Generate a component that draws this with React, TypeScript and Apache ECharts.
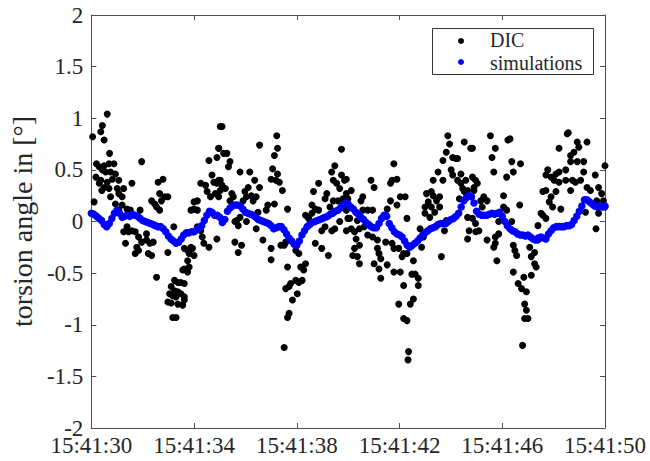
import React, { useEffect, useRef } from "react";
import * as echarts from "echarts";

// time in seconds after 15:41:30, torsion angle in degrees
const X_TICK_LABELS = ["15:41:30", "15:41:34", "15:41:38", "15:41:42", "15:41:46", "15:41:50"];
const Y_MIN = -2;
const Y_MAX = 2;
const LEGEND_NAMES = ["DIC", "simulations"];

const dicA: [number, number][] = [
  [0.05, 0.82], [0.43, 0.93], [0.62, 1.04], [0.37, 0.87], [0.5, 0.79], [0.71, 0.66], [0.2, 0.56], [0.31, 0.53],
  [0.5, 0.54], [0.69, 0.56], [0.88, 0.56], [0.43, 0.5], [0.56, 0.48], [0.75, 0.48], [0.94, 0.46], [0.18, 0.43],
  [0.37, 0.4], [0.62, 0.38], [0.82, 0.41], [1.07, 0.4], [0.31, 0.37], [0.5, 0.33], [0.69, 0.32], [1.01, 0.32],
  [0.41, 0.3], [1.07, 0.27], [0.75, 0.24], [0.11, 0.19], [1.2, 0.24], [0.94, 0.17], [1.2, 0.16], [1.07, 0.11],
  [1.39, 0.12], [1.52, 0.11], [1.58, 0.37], [1.26, 0.32], [1.96, 0.58], [1.9, 0.11], [1.26, -0.1], [1.39, -0.05],
  [1.45, -0.1], [1.58, -0.09], [1.71, -0.1], [1.33, -0.21], [1.84, -0.15], [1.96, -0.2], [1.77, -0.25], [1.71, -0.31],
  [1.84, -0.28], [2.15, -0.18], [2.28, -0.21], [2.41, -0.2], [2.22, -0.31], [2.35, -0.33], [2.54, -0.54], [2.15, -0.12],
  [2.35, 0.2], [2.47, 0.17], [2.54, 0.14], [2.66, 0.11], [2.73, 0.2], [2.66, 0.27], [2.6, 0.38], [2.79, 0.41],
  [2.86, 0.24], [2.98, 0.24], [3.21, -0.05], [2.98, -0.3], [3.62, -0.26], [3.75, -0.28], [3.81, -0.31], [3.88, -0.25],
  [3.94, -0.26], [4.0, -0.33], [3.75, -0.38], [3.81, -0.44], [3.62, -0.46], [3.56, -0.47], [3.75, -0.49], [3.24, -0.57],
  [3.37, -0.59], [3.49, -0.59], [3.62, -0.6], [3.11, -0.63], [3.24, -0.67], [3.37, -0.68], [3.05, -0.7], [3.17, -0.72],
  [3.3, -0.73], [3.49, -0.7], [3.62, -0.73], [2.98, -0.78], [3.11, -0.79], [3.37, -0.8], [3.56, -0.81], [3.62, -0.76],
  [3.17, -0.93], [3.3, -0.93], [4.13, -0.05], [4.26, -0.09], [4.32, -0.15], [4.38, -0.21], [4.58, -0.25], [4.0, 0.19],
  [4.13, 0.2], [4.26, 0.37], [4.45, 0.35], [4.51, 0.29], [4.64, 0.24], [4.7, 0.45], [4.77, 0.38], [4.89, 0.37],
  [4.58, 0.59], [4.89, 0.62], [4.96, 0.71], [5.02, 0.92], [5.02, 0.4], [4.83, 0.27], [4.96, 0.24], [4.0, 0.12],
  [4.13, 0.11], [3.88, 0.11],
];

const dicB: [number, number][] = [
  [5.09, 0.92], [4.96, 0.71], [5.15, 0.66], [5.28, 0.66], [5.4, 0.58], [5.34, 0.53], [4.96, 0.4], [5.09, 0.35],
  [5.22, 0.32], [5.02, 0.3], [5.47, 0.27], [5.4, 0.2], [5.53, 0.24], [5.79, 0.48], [6.17, 0.48], [6.36, 0.4],
  [6.55, 0.33], [6.11, 0.33], [5.98, 0.29], [6.04, 0.24], [6.23, 0.25], [6.42, 0.24], [6.3, 0.2], [5.91, 0.2],
  [6.55, 0.74], [7.22, 0.83], [7.25, 0.71], [7.13, 0.64], [7.06, 0.51], [7.25, 0.46], [7.0, 0.41], [7.19, 0.4],
  [7.32, 0.38], [7.44, 0.3], [7.13, 0.17], [6.87, 0.16], [6.81, 0.11], [6.49, 0.09], [7.64, 0.12], [4.89, -0.17],
  [5.66, 0.01], [5.79, 0.04], [5.59, 0.0], [5.72, -0.04], [6.04, 0.0], [6.42, -0.07], [6.68, -0.18], [5.59, -0.2],
  [5.85, -0.23], [5.72, -0.3], [7.0, -0.26], [7.0, -0.37], [7.38, -0.23], [7.57, -0.2], [7.96, -0.28], [8.08, -0.31],
  [8.34, -0.41], [8.15, -0.44], [8.27, -0.47], [7.64, -0.44], [7.96, -0.57], [7.76, -0.6], [8.21, -0.57], [8.08, -0.59],
  [7.57, -0.65], [7.7, -0.63], [8.02, -0.7], [7.83, -0.76], [7.7, -0.89], [7.64, -0.93], [7.51, -1.22], [7.51, -0.23],
  [8.34, 0.06], [8.46, 0.03], [8.59, 0.08], [8.72, 0.12], [8.59, 0.16], [8.85, 0.11], [8.65, 0.29], [8.85, 0.37],
  [9.17, 0.27], [9.1, 0.22], [9.29, 0.14], [9.42, 0.2], [9.1, -0.05], [8.97, -0.09], [8.72, -0.21], [8.97, -0.26],
  [9.23, -0.33], [9.36, -0.09], [9.48, -0.07], [9.67, 0.0], [9.36, 0.48], [9.48, 0.54], [9.74, 0.7], [9.42, 0.4],
  [9.55, 0.37], [9.67, 0.32], [9.74, 0.45], [9.86, 0.4], [9.93, 0.27], [9.8, 0.22], [9.61, 0.2], [9.99, 0.03],
  [9.93, -0.09],
];

const dicC: [number, number][] = [
  [9.93, 0.41], [10.12, 0.3], [9.99, 0.22], [9.93, 0.11], [10.06, 0.03], [10.12, -0.07], [10.36, 0.01], [10.57, 0.24],
  [10.5, 0.2], [10.89, 0.4], [11.01, 0.33], [10.95, 0.11], [10.76, 0.11], [10.57, 0.11], [11.78, 0.56], [11.71, 0.4],
  [11.9, 0.41], [11.65, 0.37], [11.65, 0.2], [11.9, 0.16], [11.52, 0.12], [12.03, 0.24], [12.22, 0.24], [12.29, 0.03],
  [10.25, -0.1], [10.44, -0.07], [10.63, -0.05], [10.31, -0.17], [10.44, -0.23], [10.25, -0.26], [10.18, -0.33], [10.36, -0.34],
  [10.44, -0.41], [10.76, -0.13], [10.95, -0.15], [11.14, -0.18], [11.14, -0.26], [11.2, -0.31], [11.27, -0.36], [11.01, -0.41],
  [11.2, -0.46], [11.27, -0.55], [11.52, -0.42], [11.46, -0.2], [11.71, -0.21], [11.78, -0.26], [11.97, -0.26], [12.16, -0.31],
  [12.1, -0.34], [12.29, -0.31], [11.78, -0.49], [12.03, -0.49], [12.16, -0.62], [12.54, -0.38], [12.48, -0.51], [12.61, -0.51],
  [12.73, -0.55], [12.73, -0.62], [11.97, -0.8], [12.54, -0.75], [12.42, -0.8], [12.16, -0.94], [12.29, -0.96], [12.35, -1.26],
  [12.33, -1.34], [12.8, -0.07], [12.93, -0.15], [12.86, -0.25], [12.99, 0.14], [12.99, 0.08], [13.18, 0.04], [13.12, 0.19],
  [13.24, 0.14], [13.37, 0.09], [13.56, 0.14], [13.05, 0.27], [13.24, 0.29], [13.31, 0.25], [13.56, 0.24], [13.44, 0.2],
  [13.31, 0.4], [13.5, 0.48], [13.69, 0.4], [13.63, -0.34], [13.75, -0.09], [13.82, 0.01], [13.69, 0.59], [13.82, 0.67],
  [13.95, 0.75], [13.88, 0.83], [14.01, 0.5], [14.07, 0.62], [14.2, 0.61], [14.26, 0.61], [14.07, 0.45], [14.26, 0.4],
  [14.39, 0.37], [14.46, 0.32], [14.52, 0.29], [14.52, 0.77], [14.77, 0.71], [14.39, 0.46], [14.58, 0.4], [14.84, 0.43],
  [14.9, 0.33], [14.65, 0.3], [14.33, 0.22], [14.65, 0.04], [14.71, -0.09], [14.65, -0.17], [14.84, 0.03], [14.97, -0.1],
];

const dicD: [number, number][] = [
  [14.84, 0.71], [14.96, 0.4], [15.03, 0.37], [14.9, 0.3], [15.16, 0.2], [15.28, 0.24], [15.41, 0.2], [15.22, 0.14],
  [15.09, -0.09], [14.96, -0.02], [15.41, -0.18], [15.73, -0.15], [15.86, -0.12], [15.73, -0.21], [15.67, -0.25], [15.79, -0.38],
  [15.54, 0.83], [15.73, 0.71], [15.6, 0.62], [15.67, 0.48], [16.22, 0.79], [16.3, 0.8], [16.37, 0.58], [16.43, 0.48],
  [16.17, 0.43], [16.71, 0.56], [16.05, 0.25], [16.05, 0.14], [16.17, 0.11], [16.37, 0.0], [16.68, 0.16], [15.86, 0.0],
  [16.43, -0.23], [16.49, -0.28], [16.56, -0.33], [16.43, -0.49], [16.62, -0.6], [16.75, -0.65], [16.84, -0.54], [16.94, -0.68],
  [17.13, -0.52], [16.87, -0.8], [16.94, -0.86], [16.87, -0.94], [17.0, -0.94], [16.79, -1.2], [17.07, -0.25], [17.26, -0.3],
  [17.13, -0.34], [17.26, -0.41], [17.32, -0.44], [17.39, -0.18], [17.39, -0.04], [17.51, 0.08], [17.58, 0.06], [17.7, 0.03],
  [17.83, 0.19], [17.96, 0.14], [17.58, 0.29], [17.7, 0.3], [17.9, 0.24], [17.7, 0.45], [17.77, 0.5], [17.9, 0.43],
  [18.09, 0.46], [18.21, 0.48], [18.02, 0.4], [18.21, 0.38], [18.09, 0.29], [18.28, 0.12], [18.21, 0.71], [18.47, 0.5],
  [18.47, 0.4], [18.53, 0.85], [18.57, 0.86], [18.66, 0.64], [18.66, 0.58], [18.79, 0.67], [18.92, 0.77], [18.98, 0.72],
  [19.3, 0.77], [18.92, 0.58], [19.17, 0.58], [18.73, 0.4], [18.85, 0.38], [19.17, 0.48], [19.05, 0.4], [19.3, 0.33],
  [19.43, 0.3], [19.62, 0.45], [19.75, 0.33], [19.87, 0.27], [19.68, 0.2], [18.66, 0.3], [19.24, 0.09], [20.0, 0.54],
  [19.75, 0.08], [19.65, -0.07], [19.94, 0.2], [20.0, 0.14],
];

// simulation sampled every 0.1 s from t = 0
const SIM_STEP = 0.1;
const simValues: number[] = [
  0.08, 0.07, 0.05, 0.03, 0.01, -0.03, -0.05, -0.02, 0.03, 0.08,
  0.11, 0.08, 0.04, 0.05, 0.06, 0.05, 0.07, 0.06, 0.05, 0.03,
  0.01, 0.0, -0.01, -0.02, -0.03, -0.04, -0.05, -0.05, -0.07, -0.1,
  -0.14, -0.17, -0.19, -0.21, -0.2, -0.17, -0.13, -0.11, -0.11, -0.1,
  -0.1, -0.08, -0.06, -0.04, 0.01, 0.06, 0.1, 0.09, 0.06, 0.06,
  0.04, -0.01, 0.02, 0.1, 0.13, 0.15, 0.16, 0.16, 0.15, 0.12,
  0.09, 0.08, 0.07, 0.06, 0.04, 0.02, 0.01, 0.0, -0.01, -0.02,
  -0.04, -0.07, -0.06, -0.05, -0.05, -0.08, -0.12, -0.16, -0.19, -0.22,
  -0.23, -0.19, -0.13, -0.09, -0.05, -0.03, -0.01, 0.0, 0.01, 0.02,
  0.03, 0.04, 0.05, 0.07, 0.08, 0.1, 0.11, 0.13, 0.16, 0.18,
  0.17, 0.14, 0.12, 0.09, 0.07, 0.04, 0.02, -0.01, -0.03, -0.05,
  -0.06, -0.06, -0.02, 0.03, 0.06, 0.05, -0.02, -0.06, -0.1, -0.12,
  -0.13, -0.15, -0.19, -0.23, -0.25, -0.23, -0.21, -0.19, -0.16, -0.13,
  -0.11, -0.09, -0.07, -0.06, -0.05, -0.03, -0.02, -0.02, -0.02, 0.0,
  0.02, 0.03, 0.05, 0.08, 0.14, 0.2, 0.23, 0.25, 0.24, 0.18,
  0.1, 0.07, 0.06, 0.06, 0.06, 0.07, 0.08, 0.07, 0.08, 0.09,
  0.05, 0.0, -0.04, -0.07, -0.09, -0.1, -0.12, -0.13, -0.13, -0.14,
  -0.13, -0.15, -0.17, -0.18, -0.16, -0.15, -0.16, -0.17, -0.12, -0.09,
  -0.06, -0.05, -0.05, -0.05, -0.05, -0.04, -0.04, -0.03, 0.01, 0.05,
  0.1, 0.15, 0.21, 0.21, 0.19, 0.17, 0.15, 0.14, 0.15, 0.14,
  0.15,
];

const FONT = "Liberation Serif";
const TEXT = "#262626";
const AXIS = "#4d4d4d";
const DIC_COLOR = "#000000";
const SIM_COLOR = "#0000ff";

export default function App() {
  const ref = useRef<HTMLDivElement>(null);
  useEffect(() => {
    if (!ref.current) return;
    const chart = echarts.init(ref.current, undefined, { renderer: "svg" });
    const dicData = [...dicA, ...dicB, ...dicC, ...dicD];
    const simData = simValues.map((v, i) => [Math.round(i * SIM_STEP * 10) / 10, v]);
    const xBase = {
      type: "value" as const,
      min: 0,
      max: 20,
      interval: 4,
      splitLine: { show: false },
      axisLine: { show: true, onZero: false, lineStyle: { color: AXIS, width: 1 } },
      axisTick: { show: true, inside: true, length: 5, lineStyle: { color: AXIS } },
    };
    const yBase = {
      type: "value" as const,
      min: Y_MIN,
      max: Y_MAX,
      interval: 0.5,
      splitLine: { show: false },
      axisLine: { show: true, onZero: false, lineStyle: { color: AXIS, width: 1 } },
      axisTick: { show: true, inside: true, length: 5, lineStyle: { color: AXIS } },
    };
    const legendText = (label: string, y: number) => ({
      type: "text",
      x: 490,
      y,
      style: {
        text: label,
        fontFamily: FONT,
        fontSize: 20,
        lineHeight: 18,
        fill: TEXT,
        verticalAlign: "middle",
        align: "left",
      },
    });
    chart.setOption({
      animation: false,
      backgroundColor: "#ffffff",
      textStyle: { fontFamily: FONT },
      grid: { left: 82, right: 45, top: 15, bottom: 33, containLabel: false },
      graphic: [
        {
          type: "group",
          z: 100,
          children: [
            {
              type: "rect",
              shape: { x: 432.5, y: 28.5, width: 161, height: 46 },
              style: { fill: "#ffffff", stroke: "#333333", lineWidth: 1 },
            },
            { type: "circle", shape: { cx: 461, cy: 41, r: 3 }, style: { fill: DIC_COLOR } },
            { type: "circle", shape: { cx: 461, cy: 62, r: 3 }, style: { fill: SIM_COLOR } },
            legendText(LEGEND_NAMES[0], 39.5),
            legendText(LEGEND_NAMES[1], 62.5),
          ],
        },
      ],
      xAxis: [
        {
          ...xBase,
          position: "bottom",
          axisLabel: {
            show: true,
            margin: 9,
            fontFamily: FONT,
            fontSize: 23,
            lineHeight: 16,
            color: TEXT,
            formatter: (v: number) => X_TICK_LABELS[Math.round(v / 4)] ?? "",
          },
        },
        { ...xBase, position: "top", axisLabel: { show: false } },
      ],
      yAxis: [
        {
          ...yBase,
          position: "left",
          name: "torsion angle in [°]",
          nameLocation: "middle",
          nameGap: 47,
          nameTextStyle: { fontFamily: FONT, fontSize: 28, color: TEXT },
          axisLabel: { show: true, margin: 8, fontFamily: FONT, fontSize: 23, lineHeight: 16, color: TEXT },
        },
        { ...yBase, position: "right", axisLabel: { show: false } },
      ],
      series: [
        {
          name: LEGEND_NAMES[0],
          type: "scatter",
          xAxisIndex: 0,
          yAxisIndex: 0,
          symbol: "circle",
          symbolSize: 7,
          itemStyle: { color: DIC_COLOR, opacity: 1 },
          data: dicData,
        },
        {
          name: LEGEND_NAMES[1],
          type: "scatter",
          xAxisIndex: 0,
          yAxisIndex: 0,
          symbol: "circle",
          symbolSize: 7.5,
          itemStyle: { color: SIM_COLOR, opacity: 1 },
          data: simData,
        },
      ],
    });
    return () => chart.dispose();
  }, []);
  return (
    <div
      ref={ref}
      style={{ position: "absolute", left: 0, top: 0, width: 650, height: 461 }}
    />
  );
}
